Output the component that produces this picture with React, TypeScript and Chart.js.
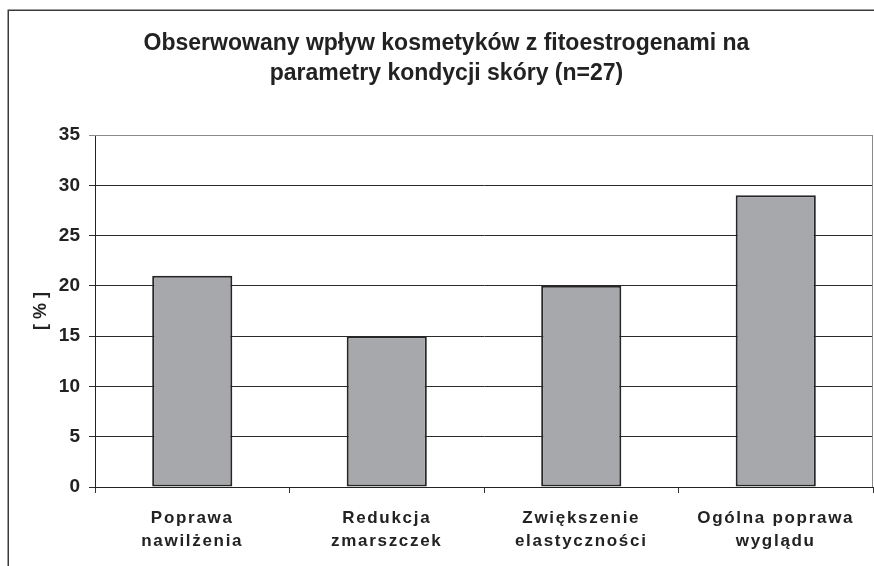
import React, { useEffect, useRef } from "react";
import { Chart, registerables } from "chart.js";

Chart.register(...registerables);

const titleLines = [
  "Obserwowany wpływ kosmetyków z fitoestrogenami na",
  "parametry kondycji skóry (n=27)",
];
const categories = [
  ["Poprawa", "nawilżenia"],
  ["Redukcja", "zmarszczek"],
  ["Zwiększenie", "elastyczności"],
  ["Ogólna poprawa", "wyglądu"],
];
const values = [21, 15, 20, 29];
const yMin = 0;
const yMax = 35;
const yStep = 5;
const yAxisTitle = "[ % ]";

const TEXT = "#222222";
const FONT = "'Liberation Sans', Arial, sans-serif";

const framePlugin = {
  id: "frame",
  beforeDraw(chart: any) {
    const ctx = chart.ctx;
    ctx.save();
    ctx.fillStyle = "#ffffff";
    ctx.fillRect(0, 0, chart.width, chart.height);
    ctx.strokeStyle = "#3a3a3a";
    ctx.lineWidth = 1.5;
    ctx.strokeRect(8.25, 10.25, 2000, 2000);
    ctx.restore();
    const xs = chart.scales.x;
    if (xs && !xs.__wrapped) {
      const orig = xs.drawLabels.bind(xs);
      xs.drawLabels = (ca: any) => {
        ctx.save();
        (ctx as any).letterSpacing = "1.7px";
        orig(ca);
        ctx.restore();
      };
      xs.__wrapped = true;
    }
  },
  afterDraw(chart: any) {
    const ctx = chart.ctx;
    const a = chart.chartArea;
    ctx.save();
    ctx.strokeStyle = "#8a8a8a";
    ctx.lineWidth = 1;
    ctx.beginPath();
    ctx.moveTo(a.left, a.top + 0.5);
    ctx.lineTo(a.right - 0.5, a.top + 0.5);
    ctx.lineTo(a.right - 0.5, a.bottom);
    ctx.stroke();
    ctx.restore();
  },
};

export default function App() {
  const ref = useRef<HTMLCanvasElement>(null);
  useEffect(() => {
    const chart = new Chart(ref.current as HTMLCanvasElement, {
      type: "bar",
      data: {
        labels: categories as any,
        datasets: [
          {
            data: values,
            backgroundColor: "#a7a8ab",
            borderColor: "#262626",
            borderWidth: 2,
            borderSkipped: false,
            barPercentage: 0.412,
            categoryPercentage: 1,
          },
        ],
      },
      options: {
        responsive: false,
        animation: false,
        layout: { padding: { left: 20, right: 1, top: 0, bottom: 0 } },
        plugins: {
          legend: { display: false },
          tooltip: { enabled: false },
          title: {
            display: true,
            text: titleLines,
            color: TEXT,
            font: { family: FONT, size: 23, weight: "bold", lineHeight: 30 / 23 },
            padding: { top: 28.5, bottom: 46.5 },
          },
        },
        scales: {
          x: {
            grid: {
              drawOnChartArea: false,
              drawTicks: true,
              tickLength: 6,
              color: "#333333",
              offset: true,
            },
            border: { display: true, color: "#222222", width: 1 },
            ticks: {
              color: TEXT,
              font: { family: FONT, size: 17, weight: "bold", lineHeight: 23 / 17 },
              padding: 14,
              maxRotation: 0,
              autoSkip: false,
            },
            afterFit: (s: any) => {
              s.height = 79;
            },
          },
          y: {
            min: yMin,
            max: yMax,
            ticks: {
              stepSize: yStep,
              color: TEXT,
              font: { family: FONT, size: 19, weight: "bold" },
              padding: 9,
            },
            grid: {
              color: (c: any) => (c.tick && c.tick.value === yMax ? "#8a8a8a" : "#2a2a2a"),
              tickLength: 6,
              lineWidth: 1,
            },
            border: { display: true, color: "#222222", width: 1 },
            title: {
              display: true,
              text: yAxisTitle,
              color: TEXT,
              font: { family: FONT, size: 18, weight: "bold" },
              padding: { top: 10, bottom: 0 },
            },
            afterFit: (s: any) => {
              s.width = 75;
            },
          },
        },
      },
      plugins: [framePlugin],
    });
    return () => chart.destroy();
  }, []);
  return (
    <div style={{ position: "absolute", left: 0, top: 0, width: 874, height: 566 }}>
      <canvas ref={ref} width={874} height={566} style={{ display: "block" }} />
    </div>
  );
}
